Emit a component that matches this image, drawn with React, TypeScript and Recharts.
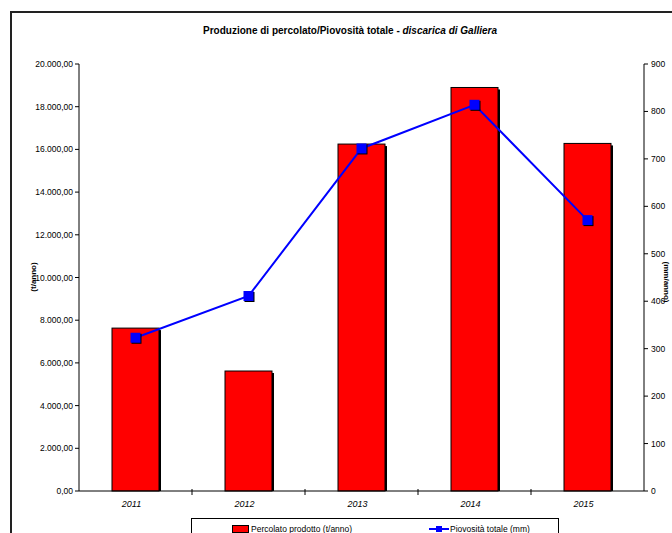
import { Bar, ComposedChart, Line, XAxis, YAxis } from "recharts";

const years = ["2011", "2012", "2013", "2014", "2015"];
const percolato = [7630, 5620, 16250, 18900, 16280]; // t/anno
const piovosita = [323, 411, 722, 814, 571]; // mm

const leftTicks = [0, 2000, 4000, 6000, 8000, 10000, 12000, 14000, 16000, 18000, 20000];
const rightTicks = [0, 100, 200, 300, 400, 500, 600, 700, 800, 900];

const data = years.map((year, i) => ({ year, percolato: percolato[i], piovosita: piovosita[i] }));

const W = 672;
const H = 533;
const LEFT_W = 79;
const RIGHT_W = 28;
const BAND = (W - LEFT_W - RIGHT_W) / years.length;
const FONT = "'Liberation Sans', Arial, sans-serif";

// formato italiano: 20.000,00
function fmtIt(v: number) {
  const [i, d] = v.toFixed(2).split(".");
  return i.replace(/\B(?=(\d{3})+(?!\d))/g, ".") + "," + d;
}

function YearTick(props: any) {
  const { x, y, payload, index } = props;
  const axisY = y - 10;
  return (
    <g>
      <text x={x - 4} y={y} dy="0.71em" textAnchor="middle" fontSize={9} fontStyle="italic" fill="#000" fontFamily={FONT}>
        {payload.value}
      </text>
      {index < years.length - 1 && (
        <line x1={x + BAND / 2} x2={x + BAND / 2} y1={axisY - 2} y2={axisY + 4} stroke="#000" strokeWidth={1} />
      )}
    </g>
  );
}

function ShadowBar(props: any) {
  const { x, y, width, height } = props;
  if (!height) return null;
  return (
    <g>
      <rect x={x + 2} y={y + 2} width={width} height={height - 2} fill="#000" />
      <rect x={x} y={y} width={width} height={height} fill="#ff0000" stroke="#000" strokeWidth={1} />
    </g>
  );
}

function SquareDot(props: any) {
  const { cx, cy } = props;
  if (cx == null || cy == null) return null;
  return (
    <g>
      <rect x={cx - 4} y={cy - 4} width={10} height={10} fill="#000" />
      <rect x={cx - 5} y={cy - 5} width={10} height={10} fill="#0000ff" />
    </g>
  );
}

export default function App() {
  return (
    <div style={{ position: "absolute", left: 0, top: 0, width: W, height: H, overflow: "hidden", background: "#fff", fontFamily: FONT }}>
      <div style={{ position: "absolute", left: 10, top: 11, width: 720, height: 600, border: "2px solid #222" }} />
      <div style={{ position: "absolute", left: 0, width: 700, top: 25, textAlign: "center", fontSize: 10, fontWeight: "bold", color: "#000" }}>
        Produzione di percolato/Piovosità totale - <i>discarica di Galliera</i>
      </div>
      <ComposedChart width={W} height={H} data={data} margin={{ top: 64, right: 0, bottom: 0, left: 0 }} style={{ position: "absolute", left: 0, top: 0 }}>
        <XAxis dataKey="year" tickLine={false} tickSize={0} tickMargin={10} height={42} axisLine={{ stroke: "#000" }} tick={<YearTick />} interval={0} />
        <YAxis
          yAxisId="left"
          width={LEFT_W}
          domain={[0, 20000]}
          ticks={leftTicks}
          tickFormatter={fmtIt}
          tickSize={4}
          tickMargin={2}
          axisLine={{ stroke: "#000" }}
          tickLine={{ stroke: "#000" }}
          tick={{ fontSize: 8.5, fill: "#000", fontFamily: FONT }}
          interval={0}
        />
        <YAxis
          yAxisId="right"
          orientation="right"
          width={RIGHT_W}
          domain={[0, 900]}
          ticks={rightTicks}
          tickSize={4}
          tickMargin={3}
          axisLine={{ stroke: "#000" }}
          tickLine={{ stroke: "#000" }}
          tick={{ fontSize: 8.5, fill: "#000", fontFamily: FONT }}
          interval={0}
        />
        <Bar yAxisId="left" dataKey="percolato" barSize={47} shape={<ShadowBar />} isAnimationActive={false} />
        <Line
          yAxisId="right"
          type="linear"
          dataKey="piovosita"
          stroke="#0000ff"
          strokeWidth={2}
          dot={<SquareDot />}
          activeDot={false}
          isAnimationActive={false}
        />
      </ComposedChart>
      <div style={{ position: "absolute", left: 33, top: 277, transform: "translate(-50%, -50%) rotate(-90deg)", fontSize: 8, fontWeight: "bold", whiteSpace: "nowrap" }}>
        (t/anno)
      </div>
      <div style={{ position: "absolute", left: 666, top: 282, transform: "translate(-50%, -50%) rotate(90deg)", fontSize: 8, fontWeight: "bold", whiteSpace: "nowrap" }}>
        (mm/anno)
      </div>
      <div style={{ position: "absolute", left: 191, top: 518, width: 366, height: 40, border: "1px solid #000", fontSize: 8.5 }}>
        <div style={{ position: "absolute", left: 40, top: 5, display: "flex", alignItems: "center" }}>
          <span style={{ display: "inline-block", width: 15, height: 6, background: "#ff0000", border: "1px solid #000", marginRight: 2 }} />
          Percolato prodotto (t/anno)
        </div>
        <div style={{ position: "absolute", left: 237, top: 5, display: "flex", alignItems: "center" }}>
          <svg width={20} height={8} style={{ marginRight: 1 }}>
            <line x1={0} x2={20} y1={4} y2={4} stroke="#0000ff" strokeWidth={2} />
            <rect x={7} y={1} width={6} height={6} fill="#0000ff" />
          </svg>
          Piovosità totale (mm)
        </div>
      </div>
    </div>
  );
}
